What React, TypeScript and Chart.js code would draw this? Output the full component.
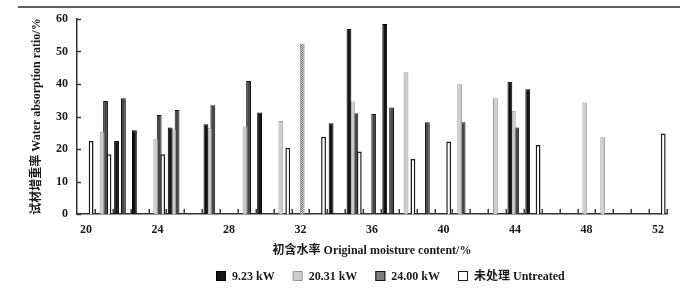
import React, { useEffect, useRef } from 'react';
import { Chart, registerables } from 'chart.js';

Chart.register(...registerables);

// ---------- data ----------
const categories = [
  '20', '21', '22', '23', '24', '25', '26', '27', '28', '29', '30',
  '31', '32', '33', '34', '35', '36', '37', '38', '39', '40', '41',
  '42', '43', '44', '45', '46', '47', '48', '49', '50', '51', '52',
];

const seriesLabels = ['9.23 kW', '20.31 kW', '24.00 kW', '未处理 Untreated'];

const values923 = [
  null, null, 22.5, 25.8, null, 26.6, null, 27.6, null, null, 31.2,
  null, null, null, 27.9, 56.9, null, 58.5, null, null, null, null,
  null, null, 40.7, 38.4, null, null, null, null, null, null, null,
];

const values2031 = [
  null, 25.3, null, null, 23.0, 26.0, null, 26.4, null, 26.9, null,
  28.6, null, null, null, 34.6, null, null, 43.6, null, null, 39.9,
  null, 35.6, 31.8, null, null, null, 34.3, 23.6, null, null, null,
];

const values2400 = [
  null, 34.8, 35.6, null, 30.5, 32.0, null, 33.5, null, 40.9, null,
  null, 52.5, null, null, 31.0, 30.8, 32.8, null, 28.2, null, 28.2,
  null, null, 26.6, null, null, null, null, null, null, null, null,
];

const valuesUntreated = [
  22.5, 18.4, null, null, 18.4, null, null, null, null, null, null,
  20.4, null, 23.8, null, 19.2, null, null, 16.9, null, 22.3, null,
  null, null, null, 21.2, null, null, null, null, null, null, 24.8,
];

const labelEvery = 4;
const stippledCategory = '32';

const yMin = 0;
const yMax = 60;
const yStep = 10;

const xTitle = '初含水率 Original moisture content/%';
const yTitle = '试材增重率 Water absorption ratio/%';

// ---------- styles ----------
const SERIF = '"Liberation Serif", "Noto Sans CJK SC", serif';
const styles = [
  { fill: '#141414', border: '#000000', width: 1 },
  { fill: '#cdcdcd', border: '#9a9a9a', width: 1 },
  { fill: '#474747', border: '#111111', width: 1 },
  { fill: '#ffffff', border: '#1a1a1a', width: 1.5 },
];

const decorPlugin = {
  id: 'decor',
  beforeDraw(chart: any) {
    const { ctx } = chart;
    ctx.save();
    ctx.fillStyle = '#ffffff';
    ctx.fillRect(0, 0, chart.width, chart.height);
    ctx.strokeStyle = '#2a2a2a';
    ctx.lineWidth = 1.5;
    ctx.beginPath();
    ctx.moveTo(18, 7);
    ctx.lineTo(680, 7);
    ctx.stroke();
    ctx.restore();
  },
  afterDraw(chart: any) {
    const { ctx, chartArea } = chart;
    const xs = chart.scales.x;
    const ys = chart.scales.y;
    ctx.save();
    ctx.strokeStyle = '#3a3a3a';
    ctx.lineWidth = 1.5;
    // x tick marks at category boundaries, pointing up
    const half = (xs.getPixelForValue(1) - xs.getPixelForValue(0)) / 2;
    for (let i = 0; i < categories.length; i++) {
      const px = Math.round(xs.getPixelForValue(i) + half) + 0.25;
      ctx.beginPath();
      ctx.moveTo(px, chartArea.bottom);
      ctx.lineTo(px, chartArea.bottom - 5);
      ctx.stroke();
    }
    // y tick marks, pointing right
    ys.ticks.forEach((t: any) => {
      const py = Math.round(ys.getPixelForValue(t.value)) + 0.5;
      ctx.beginPath();
      ctx.moveTo(chartArea.left, py);
      ctx.lineTo(chartArea.left + 4, py);
      ctx.stroke();
    });

    // legend
    ctx.font = `bold 12px ${SERIF}`;
    ctx.textBaseline = 'middle';
    let x = 216;
    const y = 276;
    chart.data.datasets.forEach((ds: any, i: number) => {
      const st = styles[i];
      ctx.fillStyle = i === 2 ? '#7d7d7d' : st.fill;
      ctx.fillRect(x, y - 5, 10, 10);
      ctx.strokeStyle = st.border;
      ctx.lineWidth = 1;
      ctx.strokeRect(x + 0.5, y - 4.5, 9, 9);
      ctx.fillStyle = '#1a1a1a';
      ctx.fillText(ds.label, x + 16, y + 1);
      x += 16 + ctx.measureText(ds.label).width + 18;
    });
    ctx.restore();
  },
};

export default function App() {
  const ref = useRef<HTMLCanvasElement>(null);

  useEffect(() => {
    const canvas = ref.current;
    if (!canvas) return;

    const pc = document.createElement('canvas');
    pc.width = 2;
    pc.height = 2;
    const pctx = pc.getContext('2d')!;
    pctx.fillStyle = '#d6d6d6';
    pctx.fillRect(0, 0, 2, 2);
    pctx.fillStyle = '#6e6e6e';
    pctx.fillRect(0, 0, 1, 1);
    pctx.fillRect(1, 1, 1, 1);
    const pattern = canvas.getContext('2d')!.createPattern(pc, 'repeat');
    const stippleIndex = categories.indexOf(stippledCategory);

    const seriesValues = [values923, values2031, values2400, valuesUntreated];

    const datasets = seriesValues.map((vals, i) => ({
      label: seriesLabels[i],
      data: vals,
      backgroundColor:
        i === 2
          ? (c: any) => (c.dataIndex === stippleIndex ? pattern : styles[i].fill)
          : styles[i].fill,
      borderColor:
        i === 2
          ? (c: any) => (c.dataIndex === stippleIndex ? '#8a8a8a' : styles[i].border)
          : styles[i].border,
      borderWidth: styles[i].width,
      categoryPercentage: 0.77,
      barPercentage: 1.4,
    }));

    const chart = new Chart(canvas, {
      type: 'bar',
      data: { labels: categories, datasets },
      plugins: [decorPlugin],
      options: {
        responsive: false,
        animation: false,
        devicePixelRatio: 1,
        layout: { padding: { left: 0, top: 19, right: 32, bottom: 37 } },
        plugins: {
          legend: { display: false },
          tooltip: { enabled: false },
          title: { display: false },
        },
        scales: {
          x: {
            type: 'category',
            offset: true,
            grid: { display: false, drawTicks: false },
            border: { display: true, color: '#333333', width: 1.5 },
            ticks: {
              autoSkip: false,
              maxRotation: 0,
              padding: 9,
              color: '#1a1a1a',
              font: { family: SERIF, size: 12, weight: 'bold' },
              callback: (_v: any, idx: number) =>
                idx % labelEvery === 0 ? categories[idx] : '',
            },
            title: {
              display: true,
              text: xTitle,
              color: '#1a1a1a',
              font: { family: SERIF, size: 12, weight: 'bold' },
              padding: { top: 0, bottom: 0 },
            },
            afterFit: (scale: any) => {
              scale.height = 44;
            },
          },
          y: {
            min: yMin,
            max: yMax,
            grid: { display: false, drawTicks: false },
            border: { display: true, color: '#333333', width: 1.5 },
            ticks: {
              stepSize: yStep,
              padding: 9,
              color: '#1a1a1a',
              font: { family: SERIF, size: 12, weight: 'bold' },
            },
            title: {
              display: true,
              text: yTitle,
              color: '#1a1a1a',
              font: { family: SERIF, size: 12, weight: 'bold' },
              padding: { top: 30, bottom: 0 },
            },
            afterFit: (scale: any) => {
              scale.width = 77;
            },
          },
        },
      },
    });

    return () => chart.destroy();
  }, []);

  return (
    <div
      style={{
        position: 'fixed',
        left: 0,
        top: 0,
        width: 699,
        height: 295,
        background: '#ffffff',
      }}
    >
      <canvas ref={ref} width={699} height={295} style={{ display: 'block' }} />
    </div>
  );
}
